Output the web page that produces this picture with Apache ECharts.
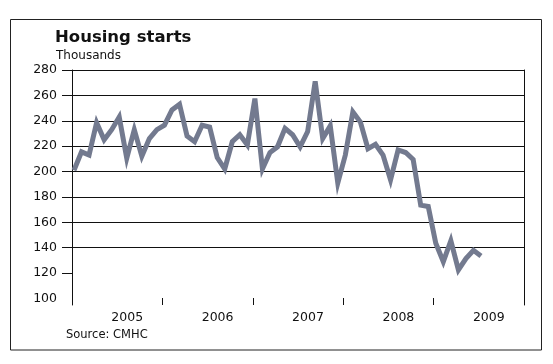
<!DOCTYPE html>
<html>
<head>
<meta charset="utf-8">
<script src="https://cdn.jsdelivr.net/npm/echarts@6/dist/echarts.min.js"></script>
<style>html,body{margin:0;padding:0;background:#fff;}#c{width:553px;height:364px;}</style>
</head>
<body>
<div id="c"></div>
<script>
// ---- data ----
var years = ['2005', '2006', '2007', '2008', '2009'];
var monthNames = ['Jan','Feb','Mar','Apr','May','Jun','Jul','Aug','Sep','Oct','Nov','Dec'];
// monthly housing starts, thousands (Jan 2005 - Jul 2009)
var starts = [
  201, 215.5, 213, 238.5, 225, 233, 243, 210.5, 233, 212, 226, 233,
  236.5, 248.5, 253, 228, 223.5, 236.5, 235, 211, 202, 223.5, 229, 221,
  257.5, 202, 215, 219.5, 234, 229, 219.5, 231.5, 271, 226, 236, 191,
  213, 247, 239, 218, 221.5, 213, 193.5, 217, 215, 209.5, 173.5, 172.5,
  143.5, 129, 145.5, 122.5, 131.5, 138, 133.5
];
var yTicks = [120, 140, 160, 180, 200, 220, 240, 260, 280];
var title = 'Housing starts';
var unit = 'Thousands';
var source = 'Source: CMHC';

// month categories for the data, and a full 5-year frame axis (with end boundary)
var dataMonths = [];
for (var i = 0; i < starts.length; i++) {
  dataMonths.push(monthNames[i % 12] + ' ' + years[Math.floor(i / 12)]);
}
var frameMonths = [];
for (var y = 0; y < years.length; y++) {
  for (var m = 0; m < 12; m++) frameMonths.push(monthNames[m] + ' ' + years[y]);
}
frameMonths.push('Jan 2010');

var ink = '#111';
var chart = echarts.init(document.getElementById('c'), null, {renderer: 'canvas'});
chart.setOption({
  animation: false,
  backgroundColor: '#fff',
  title: [
    {text: title, left: 55, top: 29, padding: 0,
     textStyle: {fontFamily: 'DejaVu Sans', fontWeight: 'bold', fontSize: 16.5, color: ink}},
    {text: unit, left: 56, top: 50, padding: 0,
     textStyle: {fontFamily: 'DejaVu Sans', fontWeight: 'normal', fontSize: 12, color: ink}},
    {text: source, left: 66, top: 329, padding: 0,
     textStyle: {fontFamily: 'DejaVu Sans', fontWeight: 'normal', fontSize: 11.5, color: ink}}
  ],
  graphic: [{
    type: 'rect', silent: true,
    shape: {x: 10.5, y: 19.5, width: 531, height: 330.5},
    style: {fill: null, stroke: '#222', lineWidth: 1}
  }],
  grid: [
    {left: 72, right: 29, top: 70, height: 228.5},
    {left: 72, right: 29, top: 70, bottom: 59},
    {left: 74, right: 72, top: 70, height: 228.5}
  ],
  xAxis: [
    {gridIndex: 0, type: 'category', data: frameMonths, boundaryGap: false, show: false},
    {gridIndex: 1, type: 'category', data: frameMonths, boundaryGap: false,
     axisLine: {show: false},
     axisTick: {show: true, inside: true, length: 7, lineStyle: {color: ink, width: 1},
                interval: function (idx) { return idx % 12 === 0; }},
     axisLabel: {show: true, margin: 6, padding: [0, 0, 0, 20],
                 interval: function (idx) { return idx % 12 === 6; },
                 formatter: function (v) { return v.split(' ')[1]; },
                 fontFamily: 'DejaVu Sans', fontSize: 12.5, color: ink},
     splitLine: {show: false}},
    {gridIndex: 2, type: 'category', data: dataMonths, boundaryGap: false, show: false}
  ],
  yAxis: [
    {gridIndex: 0, type: 'value', min: 100, max: 280, interval: 20,
     axisLine: {show: false},
     axisTick: {show: true, inside: false, length: 10, customValues: yTicks,
                lineStyle: {color: ink, width: 1}},
     axisLabel: {show: true, margin: 15, fontFamily: 'DejaVu Sans', fontSize: 12.5, color: ink},
     splitLine: {show: true, showMinLine: false, lineStyle: {color: ink, width: 1}}},
    {gridIndex: 1, type: 'value', position: 'left', min: 0, max: 1,
     axisLine: {show: true, lineStyle: {color: ink, width: 1}},
     axisTick: {show: false}, axisLabel: {show: false}, splitLine: {show: false}},
    {gridIndex: 1, type: 'value', position: 'right', min: 0, max: 1,
     axisLine: {show: true, lineStyle: {color: ink, width: 1}},
     axisTick: {show: false}, axisLabel: {show: false}, splitLine: {show: false}},
    {gridIndex: 2, type: 'value', min: 100, max: 280, show: false}
  ],
  series: [{
    type: 'line', xAxisIndex: 2, yAxisIndex: 3,
    data: starts, showSymbol: false, symbol: 'none',
    lineStyle: {color: '#737a8f', width: 5, join: 'miter', miterLimit: 6}
  }]
});
</script>
</body>
</html>
